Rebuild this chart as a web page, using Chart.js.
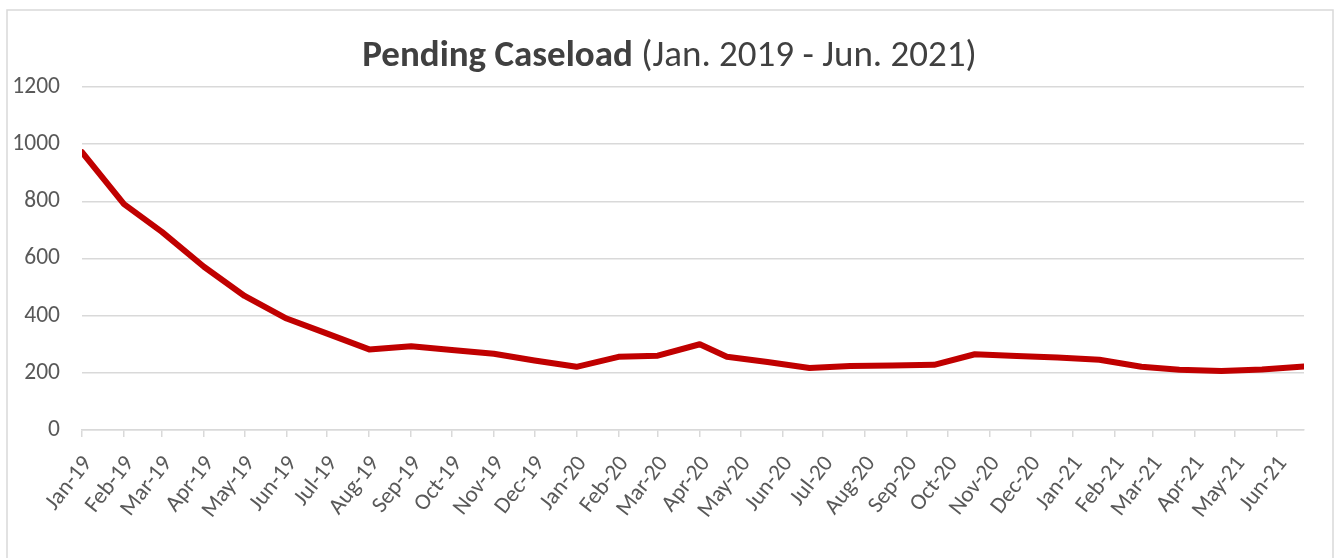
<!DOCTYPE html>
<html>
<head>
<meta charset="utf-8">
<title>Pending Caseload</title>
<script src="https://cdn.jsdelivr.net/npm/chart.js@4.4.1/dist/chart.umd.min.js"></script>
<style>
    html, body { margin: 0; padding: 0; background: #fff; }
    #caseloadChart { display: block; }
</style>
</head>
<body>
<canvas id="caseloadChart" width="1339" height="558"></canvas>
<script>
// data points (dates are when each count was taken)
const pointDates = [
    '2019-01-01', '2019-02-01', '2019-03-01', '2019-04-01', '2019-05-01', '2019-06-01',
    '2019-07-01', '2019-08-01', '2019-09-01', '2019-10-01', '2019-11-01', '2019-12-01',
    '2020-01-01', '2020-02-01', '2020-03-01', '2020-04-01', '2020-04-21', '2020-05-21',
    '2020-06-21', '2020-07-21', '2020-08-21', '2020-09-21', '2020-10-21', '2020-11-21',
    '2020-12-21', '2021-01-21', '2021-02-21', '2021-03-21', '2021-04-21', '2021-05-21',
    '2021-06-21'
];
const pendingCases = [
    972, 790, 693, 571, 469, 390,
    337, 282, 293, 280, 267, 243,
    221, 256, 260, 300, 256, 238,
    217, 224, 226, 228, 265, 259,
    254, 246, 221, 211, 206, 212,
    222
];
const tickLabels = [
    'Jan-19', 'Feb-19', 'Mar-19', 'Apr-19', 'May-19', 'Jun-19', 'Jul-19', 'Aug-19', 'Sep-19', 'Oct-19', 'Nov-19', 'Dec-19',
    'Jan-20', 'Feb-20', 'Mar-20', 'Apr-20', 'May-20', 'Jun-20', 'Jul-20', 'Aug-20', 'Sep-20', 'Oct-20', 'Nov-20', 'Dec-20',
    'Jan-21', 'Feb-21', 'Mar-21', 'Apr-21', 'May-21', 'Jun-21'
];
const yTicks = [0, 200, 400, 600, 800, 1000, 1200];

const monthNames = ['Jan', 'Feb', 'Mar', 'Apr', 'May', 'Jun', 'Jul', 'Aug', 'Sep', 'Oct', 'Nov', 'Dec'];
const startMs = Date.UTC(2019, 0, 1);
const dayOf = s => (Date.parse(s) - startMs) / 86400000;

// month-start tick positions, taken from the labels
const tickDays = tickLabels.map(l => {
    const [m, y] = l.split('-');
    return (Date.UTC(2000 + Number(y), monthNames.indexOf(m), 1) - startMs) / 86400000;
});

const points = pointDates.map((d, i) => ({ x: dayOf(d), y: pendingCases[i] }));

const gridGray = '#d9d9d9';
const textGray = '#595959';
const font = "'Carlito', 'Open Sans', sans-serif";

// frame + two-weight title
const framePlugin = {
    id: 'frame',
    beforeDraw(chart) {
        const ctx = chart.ctx;
        ctx.save();
        ctx.fillStyle = '#fff';
        ctx.fillRect(0, 0, chart.width, chart.height);
        ctx.strokeStyle = gridGray;
        ctx.lineWidth = 1.5;
        ctx.strokeRect(7, 10, chart.width - 13, chart.height + 10);
        ctx.restore();
    },
    afterDraw(chart) {
        const ctx = chart.ctx;
        const boldPart = 'Pending Caseload';
        const normalPart = ' (Jan. 2019 - Jun. 2021)';
        ctx.save();
        ctx.fillStyle = '#404040';
        ctx.textBaseline = 'alphabetic';
        ctx.font = "bold 37px " + font;
        const w1 = ctx.measureText(boldPart).width;
        ctx.font = "37px " + font;
        const w2 = ctx.measureText(normalPart).width;
        const x0 = chart.width / 2 - (w1 + w2) / 2;
        ctx.font = "bold 37px " + font;
        ctx.fillText(boldPart, x0, 66);
        ctx.font = "37px " + font;
        ctx.fillText(normalPart, x0 + w1, 66);
        ctx.restore();
    }
};

new Chart(document.getElementById('caseloadChart'), {
    type: 'line',
    data: {
        datasets: [{
            label: 'Pending Caseload',
            data: points,
            borderColor: '#c00000',
            backgroundColor: '#c00000',
            borderWidth: 6,
            pointRadius: 0,
            tension: 0,
            borderJoinStyle: 'round',
            borderCapStyle: 'round'
        }]
    },
    options: {
        responsive: false,
        animation: false,
        devicePixelRatio: 1,
        layout: { padding: { top: 87, right: 35, left: 0, bottom: 0 } },
        plugins: {
            legend: { display: false },
            tooltip: { enabled: false }
        },
        scales: {
            x: {
                type: 'linear',
                min: 0,
                max: dayOf(pointDates[pointDates.length - 1]),
                afterBuildTicks: axis => {
                    axis.ticks = tickDays.map(v => ({ value: v }));
                },
                afterFit: axis => { axis.height = 128; },
                ticks: {
                    autoSkip: false,
                    minRotation: 52,
                    maxRotation: 52,
                    padding: 14,
                    labelOffset: 6,
                    color: textGray,
                    font: { family: font, size: 23 },
                    callback: (v, i) => tickLabels[i]
                },
                grid: {
                    drawOnChartArea: false,
                    color: gridGray,
                    lineWidth: 1.5,
                    tickLength: 7
                },
                border: { color: gridGray, width: 1.5 }
            },
            y: {
                min: 0,
                max: 1200,
                afterBuildTicks: axis => {
                    axis.ticks = yTicks.map(v => ({ value: v }));
                },
                afterFit: axis => { axis.width = 82; },
                ticks: {
                    padding: 22,
                    color: textGray,
                    font: { family: font, size: 23.5 },
                    callback: v => String(v)
                },
                grid: {
                    color: gridGray,
                    lineWidth: 1.5,
                    drawTicks: false
                },
                border: { display: false }
            }
        }
    },
    plugins: [framePlugin]
});
</script>
</body>
</html>
